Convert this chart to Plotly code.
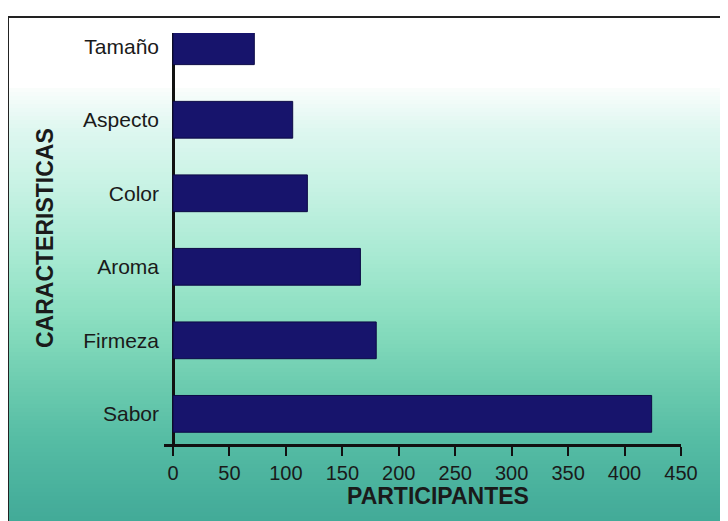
import plotly.graph_objects as go

caracteristicas = ['Sabor', 'Firmeza', 'Aroma', 'Color', 'Aspecto', 'Tamaño']
participantes = [424, 180, 166, 119, 106, 72]
x_ticks = [0, 50, 100, 150, 200, 250, 300, 350, 400, 450]

# the page has an 8px body margin, so the figure is drawn 8px in from the corner
OFF = 8
W, H = 728 - OFF, 521 - OFF
L, R, T, B = 164 - OFF, 47, 33 - OFF, 521 - 444
plot_h = H - T - B
plot_w = W - L - R


def px_to_paper_y(py):
    # py in window pixels
    return (H - B - (py - OFF)) / plot_h


def px_to_paper_x(px):
    return ((px - OFF) - L) / plot_w


# background gradient, white at top to teal at the bottom
stops = [(88, (250, 253, 252)), (130, (222, 247, 240)), (190, (198, 242, 227)),
         (260, (166, 233, 209)), (320, (138, 222, 192)), (380, (110, 205, 176)),
         (440, (85, 188, 164)), (521, (66, 170, 152))]


def grad_color(py):
    for (y0, c0), (y1, c1) in zip(stops, stops[1:]):
        if y0 <= py <= y1:
            t = (py - y0) / (y1 - y0)
            c = [round(a + (b - a) * t) for a, b in zip(c0, c1)]
            return 'rgb({},{},{})'.format(*c)
    return 'rgb({},{},{})'.format(*stops[-1][1])


shapes = []
step = 4
for py in range(88, 521, step):
    shapes.append(dict(type='rect', xref='paper', yref='paper', layer='below',
                       x0=px_to_paper_x(9), x1=px_to_paper_x(730),
                       y0=px_to_paper_y(py + step + 1), y1=px_to_paper_y(py),
                       line=dict(width=0), fillcolor=grad_color(py + step / 2)))

# frame lines (top and left)
shapes.append(dict(type='line', xref='paper', yref='paper',
                   x0=px_to_paper_x(8), x1=px_to_paper_x(730),
                   y0=px_to_paper_y(17), y1=px_to_paper_y(17),
                   line=dict(color='#222', width=2)))
shapes.append(dict(type='line', xref='paper', yref='paper',
                   x0=px_to_paper_x(8), x1=px_to_paper_x(8),
                   y0=px_to_paper_y(17), y1=px_to_paper_y(523),
                   line=dict(color='#222', width=2)))

fig = go.Figure(go.Bar(
    y=caracteristicas, x=participantes, orientation='h', width=0.5,
    marker=dict(color='#17146c', line=dict(color='#0c0a45', width=1)),
))

fig.update_layout(
    width=W, height=H,
    margin=dict(l=L, r=R, t=T, b=B),
    paper_bgcolor='white', plot_bgcolor='rgba(0,0,0,0)',
    font=dict(family='Liberation Sans, Arial, sans-serif', color='#1a1a1a'),
    shapes=shapes,
    showlegend=False,
    annotations=[
        dict(text='<b>PARTICIPANTES</b>', xref='paper', yref='paper',
             x=px_to_paper_x(438), y=px_to_paper_y(496), showarrow=False,
             xanchor='center', yanchor='middle',
             font=dict(size=23, color='#1a1a1a')),
        dict(text='<b>CARACTERISTICAS</b>', xref='paper', yref='paper',
             x=px_to_paper_x(45), y=px_to_paper_y(238), showarrow=False,
             xanchor='center', yanchor='middle',
             textangle=-90, font=dict(size=23, color='#1a1a1a')),
    ],
)

fig.update_xaxes(
    range=[-8, 450], tickvals=x_ticks, ticks='outside', ticklen=9,
    tickwidth=2, tickcolor='#111', showline=True, linecolor='#111',
    linewidth=2.5, showgrid=False, zeroline=True, zerolinecolor='#111',
    zerolinewidth=2.5, tickfont=dict(size=20), fixedrange=True,
)
fig.update_yaxes(
    range=[-0.41, 5.18], showgrid=False, showline=False, ticks='',
    ticklabelstandoff=4, tickfont=dict(size=21), fixedrange=True,
)

fig.write_html("out.html")
